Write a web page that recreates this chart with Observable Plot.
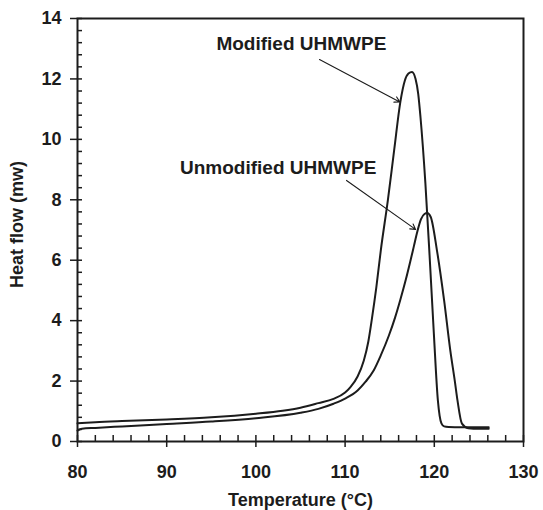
<!DOCTYPE html>
<html>
<head>
<meta charset="utf-8">
<script src="https://cdn.jsdelivr.net/npm/d3@7"></script>
<script src="https://cdn.jsdelivr.net/npm/@observablehq/plot@0.6"></script>
<style>
  body { margin: 0; background: #fff; }
  #chart svg { display: block; overflow: visible; }
</style>
</head>
<body>
<div id="chart"></div>
<script>
// DSC crystallization traces, heat flow (mW) against temperature (\u00B0C)
const modifiedTemp = [80, 82, 85, 90, 95, 100, 103, 105, 107, 108.7, 110, 110.6, 111.4, 112.1, 112.6, 113.0, 113.5, 114.0, 114.8, 115.5, 116.2, 116.7, 117.1, 117.5, 117.9, 118.2, 118.45, 119.0, 119.5, 119.95, 120.4, 120.6, 120.8, 121.1, 121.6, 123, 126.1];
const modifiedFlow = [0.60, 0.64, 0.68, 0.73, 0.80, 0.92, 1.02, 1.12, 1.27, 1.41, 1.62, 1.80, 2.15, 2.68, 3.30, 4.05, 5.10, 6.32, 8.00, 9.64, 11.25, 11.95, 12.18, 12.23, 12.00, 11.50, 10.74, 8.55, 6.00, 3.57, 1.36, 0.85, 0.60, 0.50, 0.48, 0.47, 0.47];

const unmodifiedTemp = [80, 80.5, 82, 85, 90, 95, 100, 105, 107, 108.7, 110, 111.4, 112.3, 113.2, 114.0, 114.9, 115.6, 116.2, 116.8, 117.3, 117.7, 118.1, 118.5, 118.9, 119.2, 119.6, 120.3, 121.1, 121.8, 122.3, 122.6, 123.1, 123.8, 125, 126.1];
const unmodifiedFlow = [0.36, 0.42, 0.45, 0.50, 0.58, 0.66, 0.77, 0.95, 1.08, 1.25, 1.42, 1.69, 1.98, 2.35, 2.85, 3.50, 4.10, 4.70, 5.35, 5.95, 6.45, 6.95, 7.35, 7.53, 7.56, 7.43, 6.32, 4.67, 3.00, 2.00, 1.36, 0.59, 0.44, 0.42, 0.42];

// Annotation labels and their leader arrows (data coordinates)
const labelText = ["Modified UHMWPE", "Unmodified UHMWPE"];
const labelTemp = [105.1, 102.5];
const labelFlow = [13.41, 9.30];
const arrowFromTemp = [107.13, 110.16];
const arrowFromFlow = [12.64, 8.64];
const arrowToTemp = [116.13, 117.9];
const arrowToFlow = [11.24, 7.02];

// Axis ticks
const xMajor = [80, 90, 100, 110, 120, 130];
const xMinor = [82, 84, 86, 88, 92, 94, 96, 98, 102, 104, 106, 108, 112, 114, 116, 118, 122, 124, 126, 128];
const yMajor = [0, 2, 4, 6, 8, 10, 12, 14];
const yMinor = [0.4, 0.8, 1.2, 1.6, 2.4, 2.8, 3.2, 3.6, 4.4, 4.8, 5.2, 5.6, 6.4, 6.8, 7.2, 7.6, 8.4, 8.8, 9.2, 9.6, 10.4, 10.8, 11.2, 11.6, 12.4, 12.8, 13.2, 13.6];

const ink = "#1c1c1c";
const font = "'Liberation Sans', Arial, sans-serif";
const blank = () => "";

const modified = modifiedTemp.map((t, i) => ({t, f: modifiedFlow[i]}));
const unmodified = unmodifiedTemp.map((t, i) => ({t, f: unmodifiedFlow[i]}));
const labels = labelText.map((s, i) => ({s, t: labelTemp[i], f: labelFlow[i]}));
const arrows = labelText.map((s, i) => ({
  x1: arrowFromTemp[i], y1: arrowFromFlow[i], x2: arrowToTemp[i], y2: arrowToFlow[i]
}));

const chart = Plot.plot({
  width: 543,
  height: 510,
  marginLeft: 77,
  marginRight: 20,
  marginTop: 18,
  marginBottom: 69,
  style: {fontFamily: font, color: ink, background: "#fff"},
  x: {domain: [80, 130]},
  y: {domain: [0, 14]},
  marks: [
    Plot.frame({stroke: ink, strokeWidth: 2}),
    // minor ticks point inward; major ticks cross the axis line
    Plot.axisX(xMinor, {tickSize: 6, insetBottom: 6, tickFormat: blank, stroke: ink, strokeWidth: 1.5, label: null}),
    Plot.axisY(yMinor, {tickSize: 5, insetLeft: 5, tickFormat: blank, stroke: ink, strokeWidth: 1.5, label: null}),
    Plot.axisX(xMajor, {tickSize: 12, insetBottom: 6, tickFormat: blank, stroke: ink, strokeWidth: 1.5, label: null}),
    Plot.axisY(yMajor, {tickSize: 12, insetLeft: 5, tickFormat: blank, stroke: ink, strokeWidth: 1.5, label: null}),
    // tick labels
    Plot.axisX(xMajor, {tickSize: 0, tickPadding: 24, fontSize: 18, fontWeight: "bold", fill: ink, label: null}),
    Plot.axisY(yMajor, {tickSize: 0, tickPadding: 16, fontSize: 18, fontWeight: "bold", fill: ink, label: null}),
    // traces
    Plot.line(modified, {x: "t", y: "f", stroke: ink, strokeWidth: 2, curve: "monotone-x"}),
    Plot.line(unmodified, {x: "t", y: "f", stroke: ink, strokeWidth: 2, curve: "monotone-x"}),
    // annotations
    Plot.arrow(arrows, {x1: "x1", y1: "y1", x2: "x2", y2: "y2", stroke: ink, strokeWidth: 1.1, headLength: 8, bend: 0}),
    Plot.text(labels, {x: "t", y: "f", text: "s", fontSize: 19, fontWeight: "bold", fill: ink, lineAnchor: "top", textAnchor: "middle"}),
    // axis titles
    Plot.text(["Temperature (\u00B0C)"], {frameAnchor: "bottom", dy: 52, lineAnchor: "top", textAnchor: "middle", fontSize: 18, fontWeight: "bold", fill: ink}),
    Plot.text(["Heat flow (mw)"], {frameAnchor: "left", rotate: -90, dx: -67, dy: -5.5, lineAnchor: "top", textAnchor: "middle", fontSize: 18, fontWeight: "bold", fill: ink})
  ]
});

document.getElementById("chart").append(chart);
</script>
</body>
</html>
